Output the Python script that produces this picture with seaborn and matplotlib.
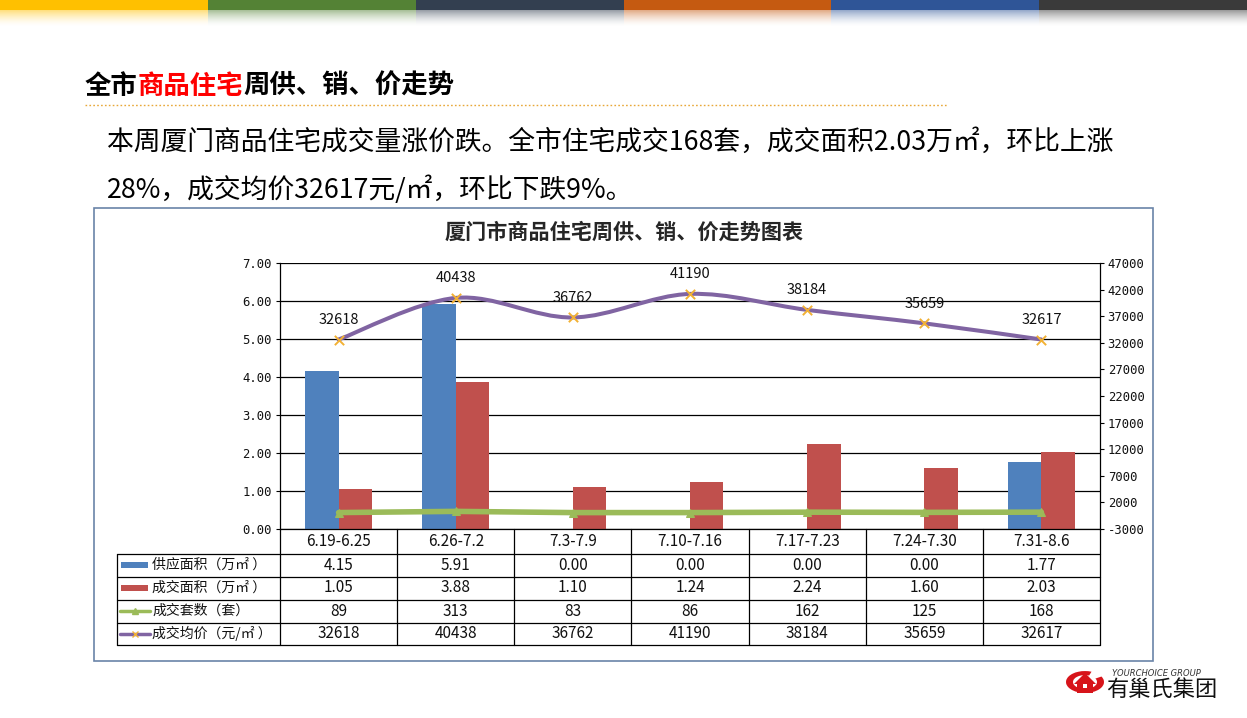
import numpy as np
import pandas as pd
import matplotlib
matplotlib.use("Agg")
import matplotlib.pyplot as plt
import matplotlib.colors as mcolors
import matplotlib.transforms as mtransforms
from matplotlib.patches import Rectangle, PathPatch, Wedge, Polygon
from matplotlib.path import Path
from matplotlib.lines import Line2D
import seaborn as sns

# ---------------- data ----------------
weeks = ["6.19-6.25", "6.26-7.2", "7.3-7.9", "7.10-7.16", "7.17-7.23", "7.24-7.30", "7.31-8.6"]
supply_area = [4.15, 5.91, 0.00, 0.00, 0.00, 0.00, 1.77]
deal_area = [1.05, 3.88, 1.10, 1.24, 2.24, 1.60, 2.03]
deal_units = [89, 313, 83, 86, 162, 125, 168]
avg_price = [32618, 40438, 36762, 41190, 38184, 35659, 32617]
series_names = ["供应面积（万㎡ ）", "成交面积（万㎡ ）", "成交套数（套）", "成交均价（元/㎡ ）"]
left_ticks = [0, 1, 2, 3, 4, 5, 6, 7]
right_ticks = list(range(-3000, 47001, 5000))
band_colors = ["#FFC000", "#548235", "#333F50", "#C55A11", "#2F5597", "#3A3A3A"]

page_title = ["全市", "商品住宅", "周供、销、价走势"]
body_lines = ["本周厦门商品住宅成交量涨价跌。全市住宅成交168套，成交面积2.03万㎡，环比上涨",
              "28%，成交均价32617元/㎡，环比下跌9%。"]
chart_title = "厦门市商品住宅周供、销、价走势图表"

C_BLUE, C_RED, C_GREEN, C_PURPLE, C_GOLD = "#4F81BD", "#C0504D", "#9BBB59", "#8064A2", "#F2B134"

# ---------------- setup ----------------
sns.set_theme(style="white")
plt.rcParams["font.family"] = ["Noto Sans CJK SC", "DejaVu Sans"]
plt.rcParams["axes.unicode_minus"] = False

W, H = 1247, 718
fig = plt.figure(figsize=(W / 100, H / 100), dpi=100)
fig.patch.set_facecolor("white")


def fx(px):
    return px / W


def fy(py):
    return 1 - py / H


# ---------------- top colour band ----------------
band_ax = fig.add_axes([0, fy(26), 1, 26 / H])
img = np.ones((26, W, 3))
seg = W / len(band_colors)
for i, c in enumerate(band_colors):
    rgb = np.array(mcolors.to_rgb(c))
    x0, x1 = int(round(i * seg)), int(round((i + 1) * seg))
    img[0:10, x0:x1] = rgb
    for r in range(10, 26):
        a = 0.5 * (1 - (r - 10) / 16) ** 1.6
        img[r, x0:x1] = rgb * a + (1 - a)
band_ax.imshow(img, aspect="auto", interpolation="nearest", extent=[0, W, 26, 0])
band_ax.axis("off")

# ---------------- page title & text ----------------
t1 = fig.text(fx(85), fy(86), page_title[0], fontsize=19, weight="bold", va="center", color="black")
fig.add_artist(Line2D([fx(85), fx(948)], [fy(105), fy(105)], color="#E8A838", lw=1,
                      linestyle=(0, (1.2, 1.6)), transform=fig.transFigure))
for k, line in enumerate(body_lines):
    fig.text(fx(107), fy(142 + 48 * k), line, fontsize=19.3, va="center", color="#000000")

# chart frame
fig.add_artist(Rectangle((fx(94), fy(661)), fx(1153) - fx(94), (661 - 208) / H, fill=False,
                         edgecolor="#6A84A8", lw=1.2, transform=fig.transFigure))
fig.text(fx(624), fy(232), chart_title, fontsize=15.2, weight="bold", ha="center", va="center")

# ---------------- main plot ----------------
ax = fig.add_axes([fx(280), fy(529), fx(1100) - fx(280), (529 - 263) / H])
ax.patch.set_alpha(0)
df = pd.DataFrame({
    "week": weeks * 2,
    "value": supply_area + deal_area,
    "series": [series_names[0]] * len(weeks) + [series_names[1]] * len(weeks),
})
sns.barplot(data=df, x="week", y="value", hue="series", order=weeks, hue_order=series_names[:2],
            palette=[C_BLUE, C_RED], width=0.57, saturation=1, ax=ax, legend=False,
            edgecolor="none", linewidth=0)
ax.set_ylim(0, 7)
ax.set_yticks(left_ticks)
ax.set_yticklabels([f"{t:.2f}" for t in left_ticks], fontfamily="DejaVu Sans Mono", fontsize=8.8, color="#111111")
ax.yaxis.grid(True, color="black", lw=0.9)
ax.set_axisbelow(True)
ax.set_xlabel("")
ax.set_ylabel("")
for s in ["top", "right"]:
    ax.spines[s].set_visible(False)
for s in ["left", "bottom"]:
    ax.spines[s].set_color("black")
    ax.spines[s].set_linewidth(0.9)
ax.tick_params(axis="y", left=True, direction="out", length=3, width=0.8, color="black", pad=3)

ax2 = ax.twinx()
xs = np.arange(len(weeks))
sns.lineplot(x=xs, y=deal_units, ax=ax2, color=C_GREEN, lw=4, marker="^", markersize=6,
             markeredgecolor=C_GREEN, sort=False, legend=False, zorder=3)

# smoothed price curve (Bezier through the data points)
pts = np.column_stack([xs, np.array(avg_price, dtype=float)])
verts = [pts[0]]
codes = [Path.MOVETO]
n = len(pts)
for i in range(n - 1):
    p0 = pts[i - 1] if i > 0 else pts[i]
    p3 = pts[i + 2] if i + 2 < n else pts[i + 1]
    c1 = pts[i] + (pts[i + 1] - p0) / 6
    c2 = pts[i + 1] - (p3 - pts[i]) / 6
    verts += [c1, c2, pts[i + 1]]
    codes += [Path.CURVE4] * 3
ax2.add_patch(PathPatch(Path(verts, codes), facecolor="none", edgecolor=C_PURPLE, lw=2.9,
                        capstyle="round", zorder=4))
sns.scatterplot(x=xs, y=avg_price, ax=ax2, marker="x", color=C_GOLD, s=45, linewidth=1.4,
                legend=False, zorder=5)
for i, v in enumerate(avg_price):
    ax2.annotate(str(v), (i, v), xytext=(0, 14), textcoords="offset points", ha="center",
                 va="center", fontsize=10.5, color="#111111")

ax2.set_ylim(-3000, 47000)
ax2.set_yticks(right_ticks)
ax2.set_yticklabels([str(t) for t in right_ticks], fontfamily="DejaVu Sans Mono", fontsize=8.8, color="#111111")
ax2.set_ylabel("")
ax2.grid(False)
for s in ["top", "left", "bottom"]:
    ax2.spines[s].set_visible(False)
ax2.spines["right"].set_color("black")
ax2.spines["right"].set_linewidth(0.9)
ax2.tick_params(axis="y", right=True, direction="out", length=3, width=0.8, color="black", pad=2.5)
ax.set_xlim(-0.5, len(weeks) - 0.5)
ax.set_xticks([])
ax2.set_xlabel("")

# ---------------- data table ----------------
trans = mtransforms.blended_transform_factory(ax.transData, fig.transFigure)
row_edges = [529, 553.5, 576.5, 599.5, 622.5, 645]
lc = dict(color="black", lw=0.9)
for ry in row_edges[1:]:
    fig.add_artist(Line2D([fx(117), fx(1100)], [fy(ry), fy(ry)], transform=fig.transFigure, **lc))
for b in np.arange(-0.5, len(weeks), 1.0):
    fig.add_artist(Line2D([b, b], [fy(529), fy(645)], transform=trans, **lc))
fig.add_artist(Line2D([fx(117), fx(117)], [fy(553.5), fy(645)], transform=fig.transFigure, **lc))

rows = [[f"{v:.2f}" for v in supply_area], [f"{v:.2f}" for v in deal_area],
        [str(v) for v in deal_units], [str(v) for v in avg_price]]
hy = (row_edges[0] + row_edges[1]) / 2
for i, w in enumerate(weeks):
    fig.text(i, fy(hy), w, transform=trans, ha="center", va="center", fontsize=11, color="#111111")
for r, vals in enumerate(rows):
    cy = (row_edges[r + 1] + row_edges[r + 2]) / 2
    for i, v in enumerate(vals):
        fig.text(i, fy(cy), v, transform=trans, ha="center", va="center", fontsize=11, color="#111111")
    # legend key
    if r < 2:
        col = [C_BLUE, C_RED][r]
        fig.add_artist(Rectangle((fx(121), fy(cy + 3)), fx(148) - fx(121), 6 / H, facecolor=col,
                                 edgecolor="none", transform=fig.transFigure))
    else:
        col = [C_GREEN, C_PURPLE][r - 2]
        fig.add_artist(Line2D([fx(120), fx(150)], [fy(cy), fy(cy)], color=col, lw=2.5,
                              transform=fig.transFigure))
        mk = "^" if r == 2 else "x"
        mc = C_GREEN if r == 2 else C_GOLD
        fig.add_artist(Line2D([fx(135)], [fy(cy)], marker=mk, markersize=5, color=mc,
                              markeredgecolor=mc, linestyle="none", transform=fig.transFigure))
    fig.text(fx(152), fy(cy), series_names[r], ha="left", va="center", fontsize=10, color="#111111")

# ---------------- logo ----------------
fig.add_artist(Wedge((fx(1085), fy(682)), 19 / W, 70, 390, width=7 / W, facecolor="#D7141A",
                     edgecolor="none", transform=fig.transFigure))
fig.add_artist(Polygon([(fx(1074), fy(684)), (fx(1085), fy(673)), (fx(1096), fy(684)),
                        (fx(1093), fy(684)), (fx(1093), fy(693)), (fx(1077), fy(693)),
                        (fx(1077), fy(684))], closed=True, facecolor="#D7141A",
                       edgecolor="none", transform=fig.transFigure))
fig.add_artist(Rectangle((fx(1083), fy(688)), 4 / W, 4 / H, facecolor="white", edgecolor="none",
                         transform=fig.transFigure))
fig.text(fx(1112), fy(673), "YOURCHOICE GROUP", fontsize=6, style="italic", color="#333333",
         ha="left", va="center", family="DejaVu Sans")
fig.text(fx(1106), fy(690), "有巢氏集团", fontsize=16, color="#111111", ha="left", va="center")

# multicolour page title pieces
t2 = ax.annotate(page_title[1], xy=(1, 0), xycoords=t1, va="bottom", ha="left", fontsize=19,
                 weight="bold", color="#FF0000", annotation_clip=False)
t3 = ax.annotate(page_title[2], xy=(1, 0), xycoords=t2, va="bottom", ha="left", fontsize=19,
                 weight="bold", color="black", annotation_clip=False)

fig.savefig("out.png", dpi=100)
